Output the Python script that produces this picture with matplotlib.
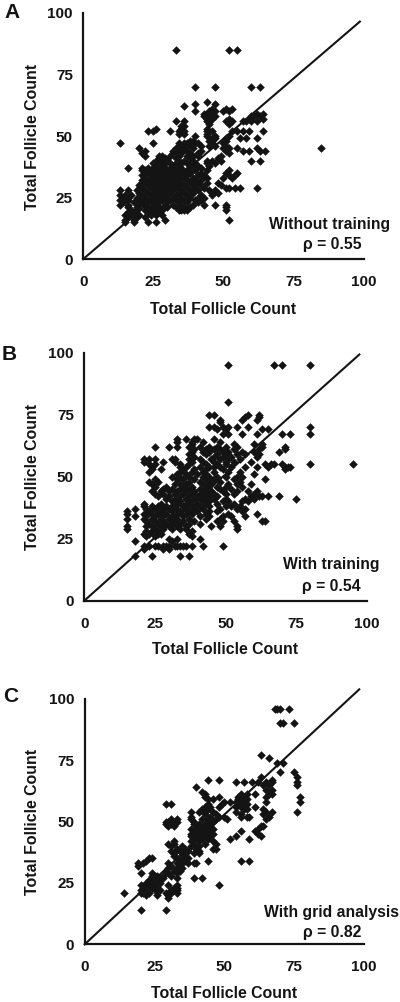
from matplotlib import pyplot as plt

plt.rcParams["font.family"] = ["Liberation Sans", "DejaVu Sans"]
plt.rcParams["font.weight"] = "bold"

W, H = 400, 1002
ticks = [0, 25, 50, 75, 100]
ink = "#141414"

# (x, y)
a_points = [
    (33,85),(52,85),(55,85),(40,70),(47,70),(60,70),(63,70),(44,64),(40,63),(47,63),(36,62),(51,61),(53,61),(46,61),
    (40,60),(45,60),(47,60),(50,60),(52,60),(43,59),(44,59),(46,59),(62,59),(64,59),(43,58),(45,58),(47,58),(60,58),(61,58),(63,58),
    (44,57),(46,57),(59,57),(64,57),(52,57),(33,56),(36,56),(44,56),(45,56),(51,56),(53,56),(57,56),(58,56),(60,56),(62,56),(45,55),(52,55),
    (36,54),(35,54),(26,53),(35,53),(44,53),(23,52),(25,52),(31,52),(34,52),(35,52),(36,52),(44,52),(46,52),(53,52),(55,52),(57,52),(59,52),(64,52),
    (34,51),(36,51),(44,51),(40,50),(44,50),(47,50),(52,50),(46,49),(47,49),(51,49),(56,49),(58,49),(62,49),(38,48),(39,48),(45,48),(46,48),(51,48),
    (13,47),(25,47),(34,47),(36,47),(37,47),(40,47),(41,47),(46,47),(50,47),(34,46),(38,46),(42,46),(45,46),(47,46),(51,46),
    (20,45),(33,45),(34,45),(36,45),(39,45),(50,45),(52,45),(55,45),(62,45),(85,45),(22,44),(32,44),(33,44),(35,44),(37,44),(42,44),(51,44),(57,44),(59,44),(63,44),(65,44),
    (21,43),(32,43),(35,43),(38,43),(41,43),(52,43),(22,42),(27,42),(28,42),(31,42),(34,42),(37,42),(39,42),(41,42),(49,42),(27,41),(29,41),(33,41),(38,41),(48,41),
    (26,40),(28,40),(30,40),(34,40),(36,40),(39,40),(44,40),(46,40),(49,40),(60,40),(63,40),(25,39),(27,39),(29,39),(31,39),(33,39),(35,39),(37,39),(40,39),(44,39),(47,39),
    (26,38),(28,38),(32,38),(34,38),(38,38),(41,38),(45,38),(16,37),(21,37),(23,37),(25,37),(27,37),(29,37),(31,37),(33,37),(35,37),(39,37),(42,37),
    (21,36),(22,36),(24,36),(26,36),(28,36),(30,36),(32,36),(34,36),(37,36),(40,36),(44,36),(52,36),(22,35),(23,35),(25,35),(27,35),(29,35),(31,35),(33,35),(36,35),(38,35),(42,35),(55,35),(51,35),
    (21,34),(24,34),(26,34),(28,34),(30,34),(32,34),(34,34),(35,34),(37,34),(41,34),(43,34),(52,34),(54,34),(22,33),(25,33),(27,33),(29,33),(31,33),(33,33),(36,33),(39,33),(44,33),(50,33),(53,33),
    (21,32),(23,32),(24,32),(26,32),(28,32),(30,32),(32,32),(34,32),(37,32),(40,32),(42,32),(22,31),(25,31),(27,31),(29,31),(31,31),(33,31),(35,31),(38,31),(41,31),(44,31),(48,31),
    (20,30),(23,30),(26,30),(28,30),(30,30),(32,30),(34,30),(36,30),(39,30),(42,30),(49,30),(21,29),(24,29),(25,29),(27,29),(29,29),(31,29),(33,29),(37,29),(40,29),(43,29),(51,29),(52,29),(54,29),(56,29),(62,29),
    (13,28),(16,28),(19,28),(22,28),(26,28),(28,28),(30,28),(32,28),(35,28),(38,28),(41,28),(45,28),(47,28),(20,27),(23,27),(25,27),(27,27),(29,27),(31,27),(34,27),(36,27),(39,27),(46,27),(48,27),
    (13,26),(15,26),(17,26),(21,26),(24,26),(26,26),(28,26),(30,26),(33,26),(37,26),(42,26),(46,26),(14,25),(16,25),(19,25),(22,25),(25,25),(27,25),(29,25),(32,25),(35,25),(38,25),(41,25),(43,25),
    (13,24),(16,24),(20,24),(23,24),(26,24),(28,24),(31,24),(33,24),(36,24),(40,24),(42,24),(14,23),(18,23),(21,23),(24,23),(25,23),(27,23),(30,23),(34,23),(37,23),(41,23),
    (13,22),(16,22),(20,22),(22,22),(26,22),(29,22),(32,22),(35,22),(39,22),(43,22),(47,22),(51,22),(16,21),(19,21),(23,21),(25,21),(27,21),(30,21),(33,21),(36,21),(38,21),(51,21),
    (17,20),(19,20),(22,20),(24,20),(26,20),(28,20),(34,20),(35,20),(36,20),(37,20),(51,20),(16,19),(18,19),(23,19),(25,19),(27,19),(15,18),(17,18),(20,18),(24,18),(26,18),(28,18),
    (16,17),(19,17),(22,17),(15,16),(18,16),(29,16),(52,16),(15,15),(18,15),(23,15),(26,15),
]
b_points = [
    (51,95),(67,95),(70,95),(80,95),(51,80),(44,75),(46,75),(58,75),(62,75),(57,74),(62,74),(48,73),(56,73),(61,73),(48,72),
    (44,70),(46,70),(49,70),(51,70),(54,70),(58,70),(80,70),(47,69),(50,69),(63,69),(65,69),(49,67),(51,67),(56,67),(61,67),(70,67),(73,67),(80,67),
    (33,65),(36,65),(39,65),(40,65),(46,65),(33,64),(38,64),(42,64),(48,64),(38,63),(53,63),(60,63),(63,63),
    (25,62),(30,62),(33,62),(37,62),(41,62),(44,62),(47,62),(50,62),(54,62),(63,62),(71,62),(39,61),(43,61),(46,61),(48,61),(53,61),(62,61),(71,61),
    (38,60),(42,60),(44,60),(49,60),(51,60),(56,60),(60,60),(69,60),(37,59),(43,59),(47,59),(50,59),(54,59),(57,59),(62,59),(39,58),(46,58),(49,58),(52,58),(61,58),
    (21,57),(23,57),(25,57),(31,57),(32,57),(37,57),(41,57),(45,57),(48,57),(51,57),(55,57),(21,56),(28,56),(32,56),(38,56),(42,56),(46,56),(50,56),(53,56),(59,56),
    (23,55),(25,55),(34,55),(37,55),(43,55),(47,55),(50,55),(67,55),(66,55),(80,55),(95,55),(70,55),(64,55),(24,54),(34,54),(36,54),(41,54),(44,54),(46,54),(48,54),(52,54),(57,54),(61,54),(65,54),(72,54),(73,54),(71,54),
    (24,53),(27,53),(35,53),(39,53),(43,53),(49,53),(71,53),(23,52),(34,52),(38,52),(42,52),(46,52),(51,52),(55,52),(33,51),(36,51),(40,51),(43,51),(60,51),
    (31,50),(34,50),(37,50),(42,50),(44,50),(47,50),(50,50),(54,50),(56,50),(25,49),(33,49),(35,49),(39,49),(43,49),(46,49),(53,49),(64,49),(23,48),(26,48),(37,48),(41,48),(44,48),(48,48),(55,48),
    (24,47),(32,47),(34,47),(36,47),(42,47),(45,47),(51,47),(54,47),(59,47),(25,46),(29,46),(35,46),(38,46),(43,46),(47,46),(50,46),(56,46),(28,45),(31,45),(34,45),(37,45),(41,45),(44,45),(48,45),(52,45),
    (24,44),(27,44),(30,44),(33,44),(36,44),(39,44),(42,44),(45,44),(49,44),(54,44),(58,44),(61,44),(25,43),(28,43),(32,43),(35,43),(38,43),(41,43),(43,43),(46,43),(50,43),(53,43),(60,43),
    (26,42),(30,42),(34,42),(37,42),(40,42),(42,42),(44,42),(47,42),(59,42),(62,42),(63,42),(65,42),(69,42),(29,41),(32,41),(36,41),(39,41),(41,41),(43,41),(46,41),(50,41),(57,41),(60,41),(75,41),
    (31,40),(34,40),(37,40),(42,40),(44,40),(49,40),(51,40),(56,40),(58,40),(21,39),(27,39),(33,39),(36,39),(40,39),(43,39),(47,39),(53,39),(21,38),(24,38),(26,38),(29,38),(31,38),(35,38),(38,38),(41,38),(44,38),(50,38),(52,38),(55,38),
    (18,37),(22,37),(25,37),(28,37),(30,37),(33,37),(36,37),(39,37),(42,37),(48,37),(54,37),(57,37),(15,36),(23,36),(27,36),(31,36),(34,36),(37,36),(40,36),(44,36),(47,36),(56,36),
    (15,35),(21,35),(24,35),(26,35),(29,35),(33,35),(36,35),(38,35),(43,35),(51,35),(61,35),(18,34),(22,34),(25,34),(28,34),(31,34),(35,34),(41,34),(44,34),(49,34),(52,34),(57,34),
    (15,33),(21,33),(24,33),(27,33),(30,33),(33,33),(37,33),(43,33),(48,33),(22,32),(25,32),(28,32),(32,32),(35,32),(39,32),(47,32),(49,32),(53,32),(63,32),(64,32),(23,31),(26,31),(29,31),(31,31),(34,31),(37,31),(41,31),
    (15,30),(22,30),(24,30),(27,30),(30,30),(33,30),(36,30),(45,30),(48,30),(54,30),(15,29),(25,29),(28,29),(31,29),(34,29),(36,29),(54,29),(22,28),(24,28),(26,28),(38,28),(21,27),(23,27),(26,27),(27,27),(37,27),(22,26),(25,26),(38,26),(30,25),(33,25),(41,25),(18,24),(31,24),
    (21,22),(23,22),(25,22),(26,22),(28,22),(29,22),(30,22),(32,22),(33,22),(34,22),(35,22),(36,22),(38,22),(42,22),(49,22),(21,21),(28,21),(30,21),(18,18),(24,18),(34,18),(37,18),
]
c_points = [
    (68,96),(69,96),(70,96),(73,96),(70,90),(71,90),(75,90),(63,77),(66,76),(69,74),(71,74),(70,70),(75,70),(63,68),(76,68),(44,67),(48,67),(67,67),
    (54,66),(57,66),(60,66),(62,66),(65,66),(67,66),(76,66),(76,65),(64,65),(66,65),(40,64),(65,63),(67,63),(42,62),(43,61),(56,61),(58,61),(61,61),(67,61),(66,61),
    (43,60),(48,60),(55,60),(57,60),(77,60),(65,60),(44,59),(46,59),(55,59),(56,59),(57,59),(58,59),(52,58),(50,58),(54,58),(56,58),(57,58),(65,58),(77,58),
    (29,57),(31,57),(49,57),(44,57),(55,57),(56,57),(57,57),(58,57),(43,56),(45,56),(48,56),(54,56),(56,56),(57,56),(61,56),(42,55),(44,55),(57,55),(58,55),(64,55),
    (38,54),(41,54),(43,54),(46,54),(54,54),(65,54),(67,54),(76,54),(43,53),(47,53),(56,53),(64,53),(38,52),(45,52),(48,52),(50,52),(56,52),(58,52),(59,52),(66,52),
    (31,51),(33,51),(38,51),(42,51),(44,51),(47,51),(51,51),(65,51),(29,50),(30,50),(33,50),(39,50),(44,50),(46,50),(29,49),(31,49),(32,49),(39,49),(41,49),(43,49),(45,49),
    (30,48),(32,48),(41,48),(43,48),(63,48),(64,48),(38,47),(40,47),(42,47),(44,47),(46,47),(62,47),(39,46),(41,46),(43,46),(45,46),(56,46),(61,46),(38,45),(40,45),(42,45),(44,45),(46,45),(62,45),
    (38,44),(41,44),(43,44),(45,44),(54,44),(63,44),(39,43),(42,43),(44,43),(52,43),(59,43),(32,42),(38,42),(41,42),(46,42),(30,41),(32,41),(39,41),(43,41),(47,41),(31,40),(35,40),(38,40),(41,40),
    (33,39),(36,39),(40,39),(46,39),(47,39),(31,38),(34,38),(37,38),(41,38),(32,37),(35,37),(39,37),(41,37),(32,36),(36,36),(23,35),(24,35),(33,35),(35,35),(37,35),(22,34),(34,34),(36,34),(44,34),(56,34),(59,34),
    (19,33),(21,33),(30,33),(33,33),(35,33),(37,33),(39,33),(40,33),(19,32),(31,32),(34,32),(30,31),(33,31),(35,31),(29,30),(32,30),(34,30),(20,29),(24,29),(30,29),(33,29),(24,28),(25,28),(26,28),(28,28),(31,28),
    (24,27),(26,27),(28,27),(33,27),(39,27),(42,27),(23,26),(25,26),(27,26),(22,25),(24,25),(26,25),(27,25),(20,24),(23,24),(25,24),(30,24),(48,24),(33,24),(21,23),(24,23),(26,23),(32,23),(33,23),
    (20,22),(22,22),(25,22),(27,22),(31,22),(33,22),(14,21),(20,21),(21,21),(23,21),(29,21),(31,21),(33,21),(22,20),(26,20),(30,20),(30,19),(20,14),(29,14),
]

a_line = [98.7, 96.5]
b_line = [97.4, 99.2]
c_line = [98.3, 103.8]


def px_text(x, y, s, **kw):
    plt.figtext(x / W, 1 - y / H, s, ha="center", va="center", color=ink, **kw)


def panel(box, points, line_end, letter, letter_xy, note, note_xy, rho, rho_xy, xlabel_xy, ylabel_xy):
    left, top, right, bottom = box
    ax = plt.axes([left / W, 1 - bottom / H, (right - left) / W, (bottom - top) / H])
    xs = [p[0] for p in points]
    ys = [p[1] for p in points]
    ax.scatter(xs, ys, marker="D", s=19, color=ink, linewidths=0, clip_on=False, zorder=3)
    ax.plot([0, line_end[0]], [0, line_end[1]], color=ink, lw=1.5, clip_on=False, zorder=2)
    ax.set_xlim(0, 100)
    ax.set_ylim(0, 100)
    ax.set_xticks(ticks)
    ax.set_yticks(ticks)
    ax.tick_params(length=0, labelsize=11, labelcolor=ink)
    ax.tick_params(axis="x", pad=11.5)
    ax.tick_params(axis="y", pad=7.5)
    ax.spines["top"].set_visible(False)
    ax.spines["right"].set_visible(False)
    ax.spines["left"].set_linewidth(1.6)
    ax.spines["bottom"].set_linewidth(1.6)
    ax.spines["left"].set_color(ink)
    ax.spines["bottom"].set_color(ink)
    ax.patch.set_alpha(0)
    px_text(*letter_xy, letter, fontsize=15)
    px_text(*note_xy, note, fontsize=11.3)
    px_text(*rho_xy, rho, fontsize=11.3)
    px_text(*xlabel_xy, "Total Follicle Count", fontsize=11.4)
    px_text(*ylabel_xy, "Total Follicle Count", fontsize=11.4, rotation=90)


plt.figure(figsize=(4, 10.02), dpi=100)

panel((83.3, 13, 363.5, 259), a_points, a_line, "A", (12, 13), "Without training", (330, 224),
      "ρ = 0.55", (332, 245), (223, 309), (32.5, 137))
panel((84.3, 352.5, 366.7, 600.7), b_points, b_line, "B", (9, 354), "With training", (331, 565),
      "ρ = 0.54", (331, 586), (225, 650), (32.5, 477))
panel((84.7, 698.7, 364, 944.3), c_points, c_line, "C", (11, 696), "With grid analysis", (331, 912),
      "ρ = 0.82", (332, 933), (224, 994), (32.5, 822))

plt.savefig("out.png", dpi=100)
